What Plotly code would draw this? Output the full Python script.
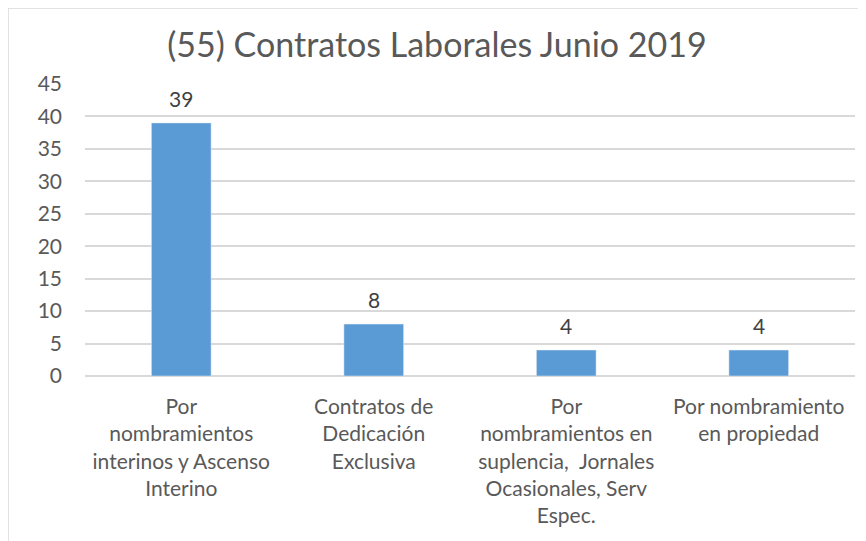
"""Contratos Laborales Junio 2019 - bar chart."""

import plotly.graph_objects as go

categories = [
    "Por<br>nombramientos<br>interinos y Ascenso<br>Interino",
    "Contratos de<br>Dedicación<br>Exclusiva",
    "Por<br>nombramientos en<br>suplencia,  Jornales<br>Ocasionales, Serv<br>Espec.",
    "Por nombramiento<br>en propiedad",
]
values = [39, 8, 4, 4]
y_ticks = [0, 5, 10, 15, 20, 25, 30, 35, 40, 45]

FONT = "Lato"
TEXT_COLOR = "#595959"

fig = go.Figure(
    go.Bar(
        x=categories,
        y=values,
        marker_color="#5B9BD5",
    )
)

# data labels above the bars
for cat, val in zip(categories, values):
    fig.add_annotation(
        x=cat, y=val, text=str(val),
        showarrow=False, yanchor="bottom", yshift=10,
        font=dict(size=21, color="#404040", family=FONT),
    )

# the page body adds an 8px offset, so the figure is a bit smaller
fig.update_layout(
    width=858,
    height=533,
    paper_bgcolor="white",
    plot_bgcolor="white",
    margin=dict(l=77, r=11, t=76, b=165),
    bargap=0.69,
    showlegend=False,
    font=dict(family=FONT, color=TEXT_COLOR),
    title=dict(
        text="(55) Contratos Laborales Junio 2019",
        x=0.5,
        xanchor="center",
        y=1 - 37 / 533,
        yanchor="middle",
        font=dict(size=34, color=TEXT_COLOR, family=FONT),
    ),
)

fig.update_yaxes(
    range=[0, 45],
    tickvals=y_ticks,
    showgrid=True,
    gridcolor="#D9D9D9",
    gridwidth=1.5,
    zeroline=True,
    zerolinecolor="#D9D9D9",
    zerolinewidth=1.5,
    showline=False,
    ticks="",
    ticklabelstandoff=22,
    tickfont=dict(size=21, color=TEXT_COLOR),
)
fig.update_xaxes(
    showline=False,
    ticks="",
    tickangle=0,
    ticklabelstandoff=16,
    tickfont=dict(size=21, color=TEXT_COLOR),
)

# chart frame
fig.add_shape(
    type="rect", xref="paper", yref="paper",
    x0=-77 / 770, x1=1.2, y0=-1, y1=1 + 76 / 292,
    line=dict(color="#D9D9D9", width=1.5),
    fillcolor="rgba(0,0,0,0)",
    layer="below",
)

fig.write_html("out.html")
